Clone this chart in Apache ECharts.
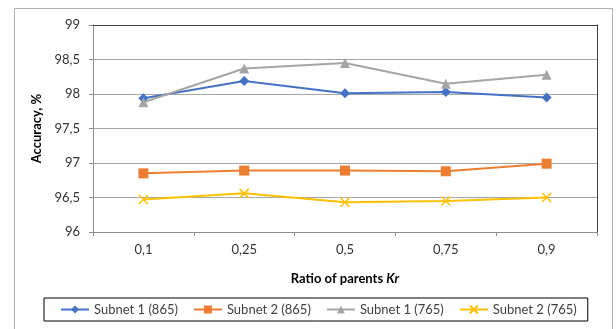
<!DOCTYPE html>
<html><head><meta charset="utf-8">
<script src="https://cdn.jsdelivr.net/npm/echarts@6/dist/echarts.min.js"></script>
<style>html,body{margin:0;padding:0;background:#fff}#c{width:616px;height:329px}</style>
</head><body><div id="c"></div>
<script>
const categories = ['0,1', '0,25', '0,5', '0,75', '0,9'];
const subnet1_865 = [97.94, 98.19, 98.01, 98.03, 97.95];
const subnet2_865 = [96.85, 96.89, 96.89, 96.88, 96.99];
const subnet1_765 = [97.88, 98.37, 98.45, 98.15, 98.28];
const subnet2_765 = [96.47, 96.56, 96.43, 96.45, 96.50];
const yMin = 96, yMax = 99, yStep = 0.5;

const FONT = 'Lato';
const chart = echarts.init(document.getElementById('c'), null, {renderer: 'canvas'});
const fmt = v => String(v).replace('.', ',');
const lineSeries = (name, data, color, symbol, size, extra) => Object.assign({
  name, type: 'line', data, symbol, symbolSize: size,
  lineStyle: {color, width: 2},
  itemStyle: {color},
  emphasis: {disabled: true}, animation: false
}, extra || {});

chart.setOption({
  animation: false,
  textStyle: {fontFamily: FONT},
  graphic: [{
    type: 'rect', shape: {x: 14.5, y: 8.5, width: 598, height: 340},
    style: {fill: 'none', stroke: '#b0b0b0', lineWidth: 1}, silent: true, z: -10
  }],
  grid: {left: 93, right: 19, top: 25, bottom: 97},
  legend: {
    left: 44, top: 298, padding: [5, 11, 5, 16],
    borderColor: '#000', borderWidth: 1,
    itemWidth: 28, itemHeight: 10, itemGap: 15,
    textStyle: {fontFamily: FONT, fontSize: 13, color: '#404040'},
    data: ['Subnet 1 (865)', 'Subnet 2 (865)', 'Subnet 1 (765)', 'Subnet 2 (765)']
  },
  xAxis: [{
    type: 'category', data: categories, boundaryGap: true,
    axisLine: {lineStyle: {color: '#8c8c8c', width: 1}},
    axisTick: {show: true, length: 4, lineStyle: {color: '#8c8c8c'}},
    axisLabel: {fontFamily: FONT, fontSize: 13, color: '#333', margin: 11},
    name: '{b|Ratio of parents }{i|Kr}', nameLocation: 'middle', nameGap: 40,
    nameTextStyle: {rich: {
      b: {fontFamily: FONT, fontSize: 13, fontWeight: 'bold', color: '#000'},
      i: {fontFamily: FONT, fontSize: 13, fontWeight: 'bold', fontStyle: 'italic', color: '#000'}
    }}
  }, {
    type: 'category', data: categories, position: 'top',
    axisLine: {lineStyle: {color: '#404040', width: 1}},
    axisTick: {show: false}, axisLabel: {show: false}
  }],
  yAxis: [{
    type: 'value', min: yMin, max: yMax, interval: yStep,
    axisLine: {show: true, lineStyle: {color: '#8c8c8c', width: 1}},
    axisTick: {show: true, length: 4, lineStyle: {color: '#8c8c8c'}},
    splitLine: {show: true, lineStyle: {color: '#a6a6a6', width: 1}},
    axisLabel: {fontFamily: FONT, fontSize: 13, color: '#333', margin: 13, formatter: fmt},
    name: 'Accuracy, %', nameLocation: 'middle', nameGap: 44, nameRotate: 90,
    nameTextStyle: {fontFamily: FONT, fontSize: 13, fontWeight: 'bold', color: '#000'}
  }, {
    type: 'value', min: yMin, max: yMax, interval: yStep, position: 'right',
    axisLine: {show: true, lineStyle: {color: '#404040', width: 1}},
    axisTick: {show: false}, axisLabel: {show: false}, splitLine: {show: false}
  }],
  series: [
    lineSeries('Subnet 1 (865)', subnet1_865, '#4472C4', 'diamond', 10),
    lineSeries('Subnet 2 (865)', subnet2_865, '#ED7D31', 'rect', 10),
    lineSeries('Subnet 1 (765)', subnet1_765, '#A5A5A5', 'triangle', 10),
    lineSeries('Subnet 2 (765)', subnet2_765, '#FFC000', 'path://M0,0L10,10M10,0L0,10', 9,
      {itemStyle: {color: '#FFC000', borderColor: '#FFC000', borderWidth: 1.5}})
  ]
});
</script></body></html>
